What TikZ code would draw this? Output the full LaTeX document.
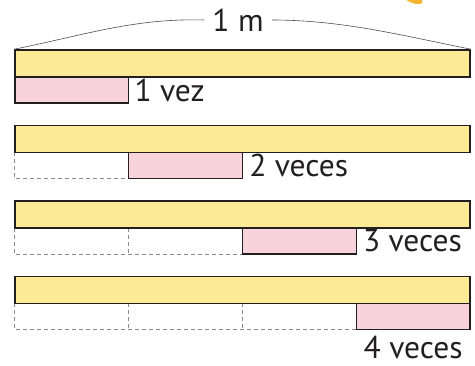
\documentclass[tikz,border=0pt]{standalone}
\usepackage{fontspec}
\setmainfont{PT Sans}
\usepackage{tikz}
\usetikzlibrary{positioning}
\usepackage{xcolor}
\definecolor{baryellow}{HTML}{FDEA96}
\definecolor{piecepink}{HTML}{F9D3DB}
\definecolor{inkdark}{HTML}{231F20}
\definecolor{slotgray}{HTML}{8A8A8A}
\definecolor{blobgold}{HTML}{F6B330}

\begin{document}
\begin{tikzpicture}[x=1pt, y=1pt,
    unitbar/.style = {rectangle, draw=inkdark, fill=baryellow, line width=1.6pt, minimum width=455pt, minimum height=27pt, inner sep=0pt},
    piece/.style = {rectangle, draw=inkdark, fill=piecepink, line width=1.2pt, minimum width=113.75pt, minimum height=26pt, inner sep=0pt},
    slot/.style = {rectangle, minimum width=113.75pt, minimum height=26pt, inner sep=0pt},
    slotline/.style = {draw=slotgray, line width=0.9pt, dash pattern=on 4pt off 3pt},
    lbl/.style = {font=\fontsize{31.5}{31.5}\selectfont, text=inkdark, inner sep=0pt},
    span/.style = {draw=inkdark!80, line width=0.6pt}
]
\useasboundingbox (0,0) rectangle (475,365);

% Empty slots
\node (s21) [slot] at (71.875,199.5) {};
\node (s31) [slot] at (71.875,124) {};
\node (s32) [slot] at (185.625,124) {};
\node (s41) [slot] at (71.875,48.5) {};
\node (s42) [slot] at (185.625,48.5) {};
\node (s43) [slot] at (299.375,48.5) {};
\draw [slotline] (s21.north west) -- (s21.south west) -- (s21.south east);
\draw [slotline] (s31.north west) -- (s31.south west) -- (s32.south east);
\draw [slotline] (s32.north west) -- (s32.south west);
\draw [slotline] (s41.north west) -- (s41.south west) -- (s43.south east);
\draw [slotline] (s42.north west) -- (s42.south west);
\draw [slotline] (s43.north west) -- (s43.south west);

% Bars
\node (bar1) [unitbar] at (242.5,301.5) {};
\node (bar2) [unitbar] at (242.5,226) {};
\node (bar3) [unitbar] at (242.5,150.5) {};
\node (bar4) [unitbar] at (242.5,75) {};

% Pieces
\node (p1) [piece] at (71.875,275) {};
\node (p2) [piece] at (185.625,199.5) {};
\node (p3) [piece] at (299.375,124) {};
\node (p4) [piece] at (413.125,48.5) {};

% Labels
\node (l1) [lbl, right=5pt of p1] {1 vez};
\node (l2) [lbl, right=6pt of p2] {2 veces};
\node (l3) [lbl, right=6pt of p3] {3 veces};
\node (l4) [lbl, below=6pt of p4] {4 veces};
\node (l_m) [lbl, inner xsep=8pt] at (238,345) {1 m};

% Span
\draw [span] (bar1.north west) .. controls +(70,14) and +(-70,2) .. (l_m.west);
\draw [span] (l_m.east) .. controls +(70,0) and +(-70,14) .. (bar1.north east);

% Blob
\fill [blobgold, rotate around={-20:(413,366)}] (413,366) ellipse [x radius=10, y radius=4];

\end{tikzpicture}
\end{document}
